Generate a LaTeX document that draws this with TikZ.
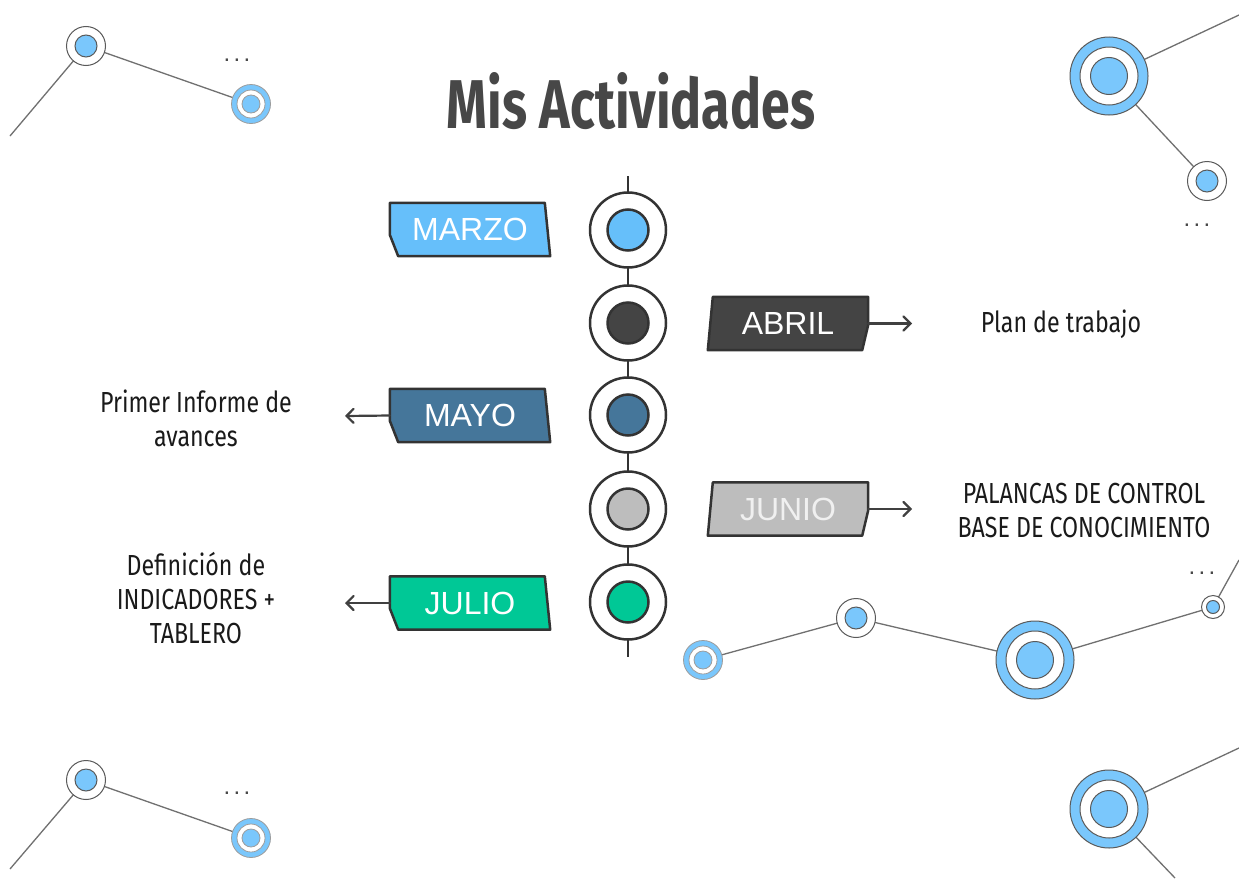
\documentclass[tikz,border=0pt]{standalone}
\usepackage{fontspec}
\usepackage{graphicx}
\setmainfont{Liberation Sans}
\newfontfamily\bodyfont[FakeStretch=0.8]{Fira Sans}
\newfontfamily\titlefont{Fira Sans}
\usetikzlibrary{arrows.meta,shapes.geometric}
\definecolor{ink}{HTML}{333333}
\definecolor{arrink}{HTML}{404040}
\definecolor{titlegray}{HTML}{474747}
\definecolor{cMarzo}{HTML}{66BFFA}
\definecolor{cAbril}{HTML}{444444}
\definecolor{cMayo}{HTML}{45769A}
\definecolor{cJunio}{HTML}{BDBDBD}
\definecolor{cJulio}{HTML}{00C896}
\definecolor{decoblue}{HTML}{7AC7FC}
\definecolor{decodraw}{HTML}{5A5A5A}
\definecolor{decoline}{HTML}{707070}
\definecolor{notetext}{HTML}{1A1A1A}
\newcommand\myringA[1]{%
  \filldraw[fill=white,draw=decodraw,line width=1pt] (#1) circle (19.5pt);
  \filldraw[fill=decoblue,draw=decodraw,line width=1pt] (#1) circle (11pt);}
\newcommand\myringB[1]{%
  \filldraw[fill=decoblue,draw=decodraw!60,line width=0.8pt] (#1) circle (19.5pt);
  \filldraw[fill=white,draw=decodraw!60,line width=0.8pt] (#1) circle (14pt);
  \filldraw[fill=decoblue,draw=decodraw!60,line width=0.8pt] (#1) circle (9pt);}
\newcommand\myringC[1]{%
  \filldraw[fill=decoblue,draw=decodraw,line width=1pt] (#1) circle (39pt);
  \filldraw[fill=white,draw=decodraw,line width=1pt] (#1) circle (29pt);
  \filldraw[fill=decoblue,draw=decodraw,line width=1pt] (#1) circle (18.5pt);}
\newcommand\myringH[1]{%
  \filldraw[fill=white,draw=decodraw,line width=1pt] (#1) circle (11.5pt);
  \filldraw[fill=decoblue,draw=decodraw,line width=1pt] (#1) circle (6.5pt);}
\begin{document}
\begin{tikzpicture}[x=1pt,y=-1pt,
  tl/.style={draw=ink,line width=2.5pt},
  blob/.style={ellipse,draw=ink,line width=2.5pt,fill=white,minimum width=76pt,minimum height=75pt,inner sep=0pt},
  innerdot/.style={circle,draw=ink,line width=2.5pt,minimum size=41pt,inner sep=0pt},
  tagbox/.style={rectangle,minimum width=160pt,minimum height=53pt,inner sep=0pt},
  tagline/.style={draw=ink,line width=2.5pt,line join=round},
  lbl/.style={text=white,font=\fontsize{32}{38}\selectfont,inner sep=0pt},
  arr/.style={draw=arrink,line width=2.2pt,line cap=round,-{Straight Barb[length=7pt,width=14pt,line cap=round]}},
  note/.style={align=center,text=notetext,inner sep=0pt,font=\bodyfont\fontsize{29}{34}\selectfont},
  deco/.style={draw=decoline,line width=1.3pt},
  dots/.style={text=decodraw!80!black,inner sep=0pt,font=\fontsize{24}{24}\selectfont}]
\useasboundingbox[fill=white] (0,0) rectangle (1239,878);

% ---------- decorative clusters ----------
\coordinate (L1) at (10,136);
\coordinate (A1) at (86,46);
\coordinate (B1) at (251,104);
\coordinate (L2) at (10,869);
\coordinate (A2) at (86,780);
\coordinate (B2) at (251,838);
\coordinate (C1) at (1109,76);
\coordinate (R1) at (1239,15);
\coordinate (D1) at (1207,181);
\coordinate (C2) at (1109,809);
\coordinate (R2) at (1239,748);
\coordinate (R3) at (1175,878);
\coordinate (E1) at (703,660);
\coordinate (F1) at (856,618);
\coordinate (G1) at (1035,660);
\coordinate (H1) at (1213,607);
\coordinate (R4) at (1239,560);

\draw[deco] (L1) -- (A1) -- (B1);
\draw[deco] (L2) -- (A2) -- (B2);
\draw[deco] (R1) -- (C1) -- (D1);
\draw[deco] (R2) -- (C2) -- (R3);
\draw[deco] (E1) -- (F1) -- (G1) -- (H1) -- (R4);

\myringA{A1} \myringB{B1}
\myringA{A2} \myringB{B2}
\myringC{C1} \myringA{D1}
\myringC{C2}
\myringB{E1} \myringA{F1} \myringC{G1} \myringH{H1}

\node[dots] (dt1) at (237,60) {.\kern3.3pt.\kern3.3pt.};
\node[dots] (dt2) at (237,793) {.\kern3.3pt.\kern3.3pt.};
\node[dots] (dt3) at (1197,225) {.\kern3.3pt.\kern3.3pt.};
\node[dots] (dt4) at (1202,573) {.\kern3.3pt.\kern3.3pt.};

% ---------- title ----------
\node[anchor=base,inner sep=0pt,text=titlegray] (title) at (631,128)
  {\resizebox{368pt}{56pt}{\titlefont\bfseries Mis Actividades}};

% ---------- timeline ----------
\coordinate (tltop) at (628,176);
\coordinate (tlbot) at (628,657);
\draw[tl] (tltop) -- (tlbot);

\node[blob] (b1) at (628,230) {};
\node[blob] (b2) at (628,323) {};
\node[blob] (b3) at (628,415) {};
\node[blob] (b4) at (628,509) {};
\node[blob] (b5) at (628,602) {};
\node[innerdot,fill=cMarzo] (d1) at (b1.center) {};
\node[innerdot,fill=cAbril] (d2) at (b2.center) {};
\node[innerdot,fill=cMayo] (d3) at (b3.center) {};
\node[innerdot,fill=cJunio] (d4) at (b4.center) {};
\node[innerdot,fill=cJulio] (d5) at (b5.center) {};

% ---------- left tags ----------
\node[tagbox] (marzo) at (470,229.5) {};
\draw[tagline,fill=cMarzo] (marzo.north west) -- ++(155,0) -- (marzo.south east) -- ++(-152,0) -- ([yshift=-32pt]marzo.north west) -- cycle;
\node[lbl] at (marzo.center) {MARZO};

\node[tagbox] (mayo) at (470,415.5) {};
\draw[tagline,fill=cMayo] (mayo.north west) -- ++(155,0) -- (mayo.south east) -- ++(-152,0) -- ([yshift=-32pt]mayo.north west) -- cycle;
\node[lbl] at (mayo.center) {MAYO};

\node[tagbox] (julio) at (470,603) {};
\draw[tagline,fill=cJulio] (julio.north west) -- ++(155,0) -- (julio.south east) -- ++(-152,0) -- ([yshift=-32pt]julio.north west) -- cycle;
\node[lbl] at (julio.center) {JULIO};

% ---------- right tags ----------
\node[tagbox] (abril) at (788,323.5) {};
\draw[tagline,fill=cAbril] ([xshift=5pt]abril.north west) -- (abril.north east) -- ([yshift=-28pt]abril.north east) -- ([xshift=-6pt]abril.south east) -- (abril.south west) -- cycle;
\node[lbl] at (abril.center) {ABRIL};

\node[tagbox] (junio) at (788,509) {};
\draw[tagline,fill=cJunio] ([xshift=5pt]junio.north west) -- (junio.north east) -- ([yshift=-28pt]junio.north east) -- ([xshift=-6pt]junio.south east) -- (junio.south west) -- cycle;
\node[lbl,text=white!94!black] at (junio.center) {JUNIO};

% ---------- notes ----------
\node[note] (nabril) at (1061,324) {Plan de trabajo};
\node[note] (njunio) at (1084,511) {PALANCAS DE CONTROL\\BASE DE CONOCIMIENTO};
\node[note] (nmayo) at (196,418) {Primer Informe de\\avances};
\node[note] (njulio) at (196,598) {Definición de\\INDICADORES +\\TABLERO};

% ---------- arrows ----------
\coordinate (eabril) at (912,323.5);
\coordinate (ejunio) at (912,509);
\coordinate (emayo) at (345,416);
\coordinate (ejulio) at (345,603);
\draw[arr] (abril.east) -- (eabril);
\draw[arr] (junio.east) -- (ejunio);
\draw[arr] (mayo.west) -- (emayo);
\draw[arr] (julio.west) -- (ejulio);
\end{tikzpicture}
\end{document}
